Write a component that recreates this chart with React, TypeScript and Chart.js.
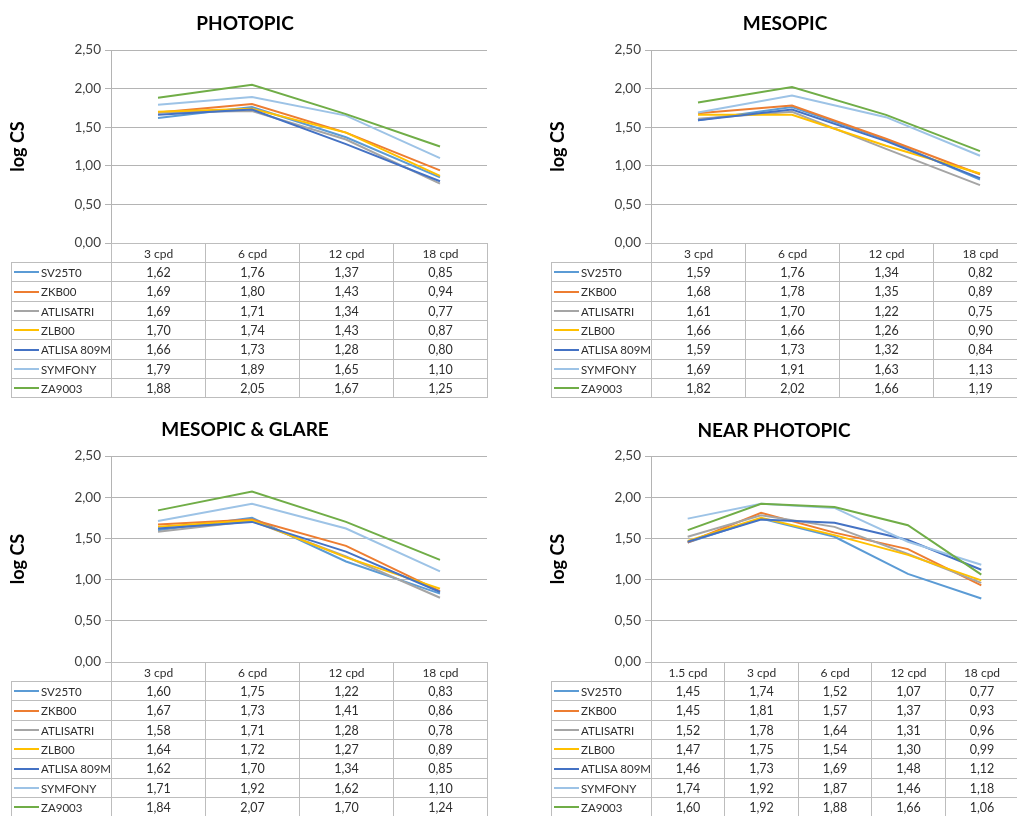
import React, { useEffect, useRef } from "react";
import { Chart, registerables } from "chart.js";

Chart.register(...registerables);

const seriesNames = ["SV25T0", "ZKB00", "ATLISATRI", "ZLB00", "ATLISA 809M", "SYMFONY", "ZA9003"];
const seriesColors = ["#5B9BD5", "#ED7D31", "#A5A5A5", "#FFC000", "#4472C4", "#9DC3E6", "#70AD47"];
const yTickLabels = ["0,00", "0,50", "1,00", "1,50", "2,00", "2,50"];

const photopicCategories = ["3 cpd", "6 cpd", "12 cpd", "18 cpd"];
const photopicValues = [
  [1.62, 1.76, 1.37, 0.85],
  [1.69, 1.8, 1.43, 0.94],
  [1.69, 1.71, 1.34, 0.77],
  [1.7, 1.74, 1.43, 0.87],
  [1.66, 1.73, 1.28, 0.8],
  [1.79, 1.89, 1.65, 1.1],
  [1.88, 2.05, 1.67, 1.25],
];

const mesopicCategories = ["3 cpd", "6 cpd", "12 cpd", "18 cpd"];
const mesopicValues = [
  [1.59, 1.76, 1.34, 0.82],
  [1.68, 1.78, 1.35, 0.89],
  [1.61, 1.7, 1.22, 0.75],
  [1.66, 1.66, 1.26, 0.9],
  [1.59, 1.73, 1.32, 0.84],
  [1.69, 1.91, 1.63, 1.13],
  [1.82, 2.02, 1.66, 1.19],
];

const glareCategories = ["3 cpd", "6 cpd", "12 cpd", "18 cpd"];
const glareValues = [
  [1.6, 1.75, 1.22, 0.83],
  [1.67, 1.73, 1.41, 0.86],
  [1.58, 1.71, 1.28, 0.78],
  [1.64, 1.72, 1.27, 0.89],
  [1.62, 1.7, 1.34, 0.85],
  [1.71, 1.92, 1.62, 1.1],
  [1.84, 2.07, 1.7, 1.24],
];

const nearCategories = ["1.5 cpd", "3 cpd", "6 cpd", "12 cpd", "18 cpd"];
const nearValues = [
  [1.45, 1.74, 1.52, 1.07, 0.77],
  [1.45, 1.81, 1.57, 1.37, 0.93],
  [1.52, 1.78, 1.64, 1.31, 0.96],
  [1.47, 1.75, 1.54, 1.3, 0.99],
  [1.46, 1.73, 1.69, 1.48, 1.12],
  [1.74, 1.92, 1.87, 1.46, 1.18],
  [1.6, 1.92, 1.88, 1.66, 1.06],
];

const FONT = "Lato, 'Open Sans', sans-serif";
const GRID = "#b4b4b4";
const BORDER = "#bdbdbd";
const TEXT = "#2e2e2e";

type PanelProps = {
  title: string;
  titleX: number;
  titleY: number;
  categories: string[];
  values: number[][];
  canvasLeft: number;
  canvasTop: number;
  plotLeft: number;
  plotRight: number;
  plotTop: number;
  plotBottom: number;
  legendLeft: number;
};

const fmt = (v: number) => v.toFixed(2).replace(".", ",");

function Panel(p: PanelProps) {
  const ref = useRef<HTMLCanvasElement | null>(null);
  const width = p.plotRight - p.canvasLeft;
  const height = p.plotBottom - p.canvasTop + 20;

  useEffect(() => {
    if (!ref.current) return;
    const chart = new Chart(ref.current, {
      type: "line",
      data: {
        labels: p.categories,
        datasets: seriesNames.map((name, i) => ({
          label: name,
          data: p.values[i],
          borderColor: seriesColors[i],
          backgroundColor: seriesColors[i],
          borderWidth: 2,
          pointRadius: 0,
          tension: 0,
          fill: false,
          order: seriesNames.length - i,
        })),
      },
      options: {
        animation: false,
        responsive: false,
        maintainAspectRatio: false,
        layout: { padding: { top: p.plotTop - p.canvasTop, bottom: 20, left: 0, right: 0 } },
        plugins: { legend: { display: false }, tooltip: { enabled: false }, title: { display: false } },
        scales: {
          x: { display: false, offset: true },
          y: {
            min: 0,
            max: 2.5,
            ticks: {
              stepSize: 0.5,
              callback: (_v: any, i: number) => yTickLabels[i],
              color: "#404040",
              font: { family: FONT, size: 13.5 },
              padding: 4,
            },
            grid: { color: GRID, tickLength: 6, lineWidth: 1 },
            border: { display: true, color: GRID },
            title: {
              display: true,
              text: "log CS",
              color: "#000",
              font: { family: FONT, size: 18, weight: "bold" },
              padding: { top: 7, bottom: 0 },
            },
            afterFit: (s: any) => {
              s.width = p.plotLeft - p.canvasLeft;
            },
          },
        },
      } as any,
    });
    return () => chart.destroy();
  }, []);

  const n = p.categories.length;
  const colW = (p.plotRight - p.plotLeft) / n;
  const headerH = 19;
  const rowH = 19.3;
  const cells: React.ReactNode[] = [];
  const cellStyle = (x: number, y: number, w: number, h: number): React.CSSProperties => ({
    position: "absolute",
    left: Math.round(x),
    top: Math.round(y),
    width: Math.round(x + w) - Math.round(x) + 1,
    height: Math.round(y + h) - Math.round(y) + 1,
    boxSizing: "border-box",
    border: `1px solid ${BORDER}`,
    display: "flex",
    alignItems: "center",
    fontFamily: FONT,
    fontSize: 12.5,
    color: TEXT,
    whiteSpace: "nowrap",
    background: "transparent",
  });
  p.categories.forEach((c, j) => {
    cells.push(
      <div key={`h${j}`} style={{ ...cellStyle(p.plotLeft + j * colW, p.plotBottom, colW, headerH), justifyContent: "center", fontSize: 12 }}>
        {c}
      </div>
    );
  });
  seriesNames.forEach((name, i) => {
    const y = p.plotBottom + headerH + i * rowH;
    cells.push(
      <div key={`l${i}`} style={{ ...cellStyle(p.legendLeft, y, p.plotLeft - p.legendLeft, rowH), fontSize: 11.5 }}>
        <span style={{ display: "inline-block", width: 25, height: 2, background: seriesColors[i], marginLeft: 2, marginRight: 2 }} />
        {name}
      </div>
    );
    p.values[i].forEach((v, j) => {
      cells.push(
        <div key={`c${i}-${j}`} style={{ ...cellStyle(p.plotLeft + j * colW, y, colW, rowH), justifyContent: "center" }}>
          {fmt(v)}
        </div>
      );
    });
  });

  return (
    <>
      <canvas
        ref={ref}
        width={width}
        height={height}
        style={{ position: "absolute", left: p.canvasLeft, top: p.canvasTop, width, height }}
      />
      <div
        style={{
          position: "absolute",
          left: p.titleX,
          top: p.titleY,
          transform: "translate(-50%, -50%)",
          fontFamily: FONT,
          fontWeight: 700,
          fontSize: 19,
          color: "#000",
          whiteSpace: "nowrap",
        }}
      >
        {p.title}
      </div>
      {cells}
    </>
  );
}

export default function App() {
  return (
    <div
      style={{
        position: "absolute",
        left: 0,
        top: 0,
        width: 1017,
        height: 816,
        overflow: "hidden",
        background: "#fff",
      }}
    >
      <Panel
        title="PHOTOPIC"
        titleX={245}
        titleY={22}
        categories={photopicCategories}
        values={photopicValues}
        canvasLeft={0}
        canvasTop={0}
        plotLeft={111}
        plotRight={487}
        plotTop={50}
        plotBottom={243}
        legendLeft={11}
      />
      <Panel
        title="MESOPIC"
        titleX={785}
        titleY={22}
        categories={mesopicCategories}
        values={mesopicValues}
        canvasLeft={540}
        canvasTop={0}
        plotLeft={651}
        plotRight={1027}
        plotTop={50}
        plotBottom={243}
        legendLeft={551}
      />
      <Panel
        title="MESOPIC & GLARE"
        titleX={245}
        titleY={428}
        categories={glareCategories}
        values={glareValues}
        canvasLeft={0}
        canvasTop={405}
        plotLeft={111}
        plotRight={487}
        plotTop={456}
        plotBottom={662}
        legendLeft={11}
      />
      <Panel
        title="NEAR PHOTOPIC"
        titleX={774}
        titleY={429}
        categories={nearCategories}
        values={nearValues}
        canvasLeft={540}
        canvasTop={405}
        plotLeft={651}
        plotRight={1018}
        plotTop={456}
        plotBottom={662}
        legendLeft={551}
      />
    </div>
  );
}
